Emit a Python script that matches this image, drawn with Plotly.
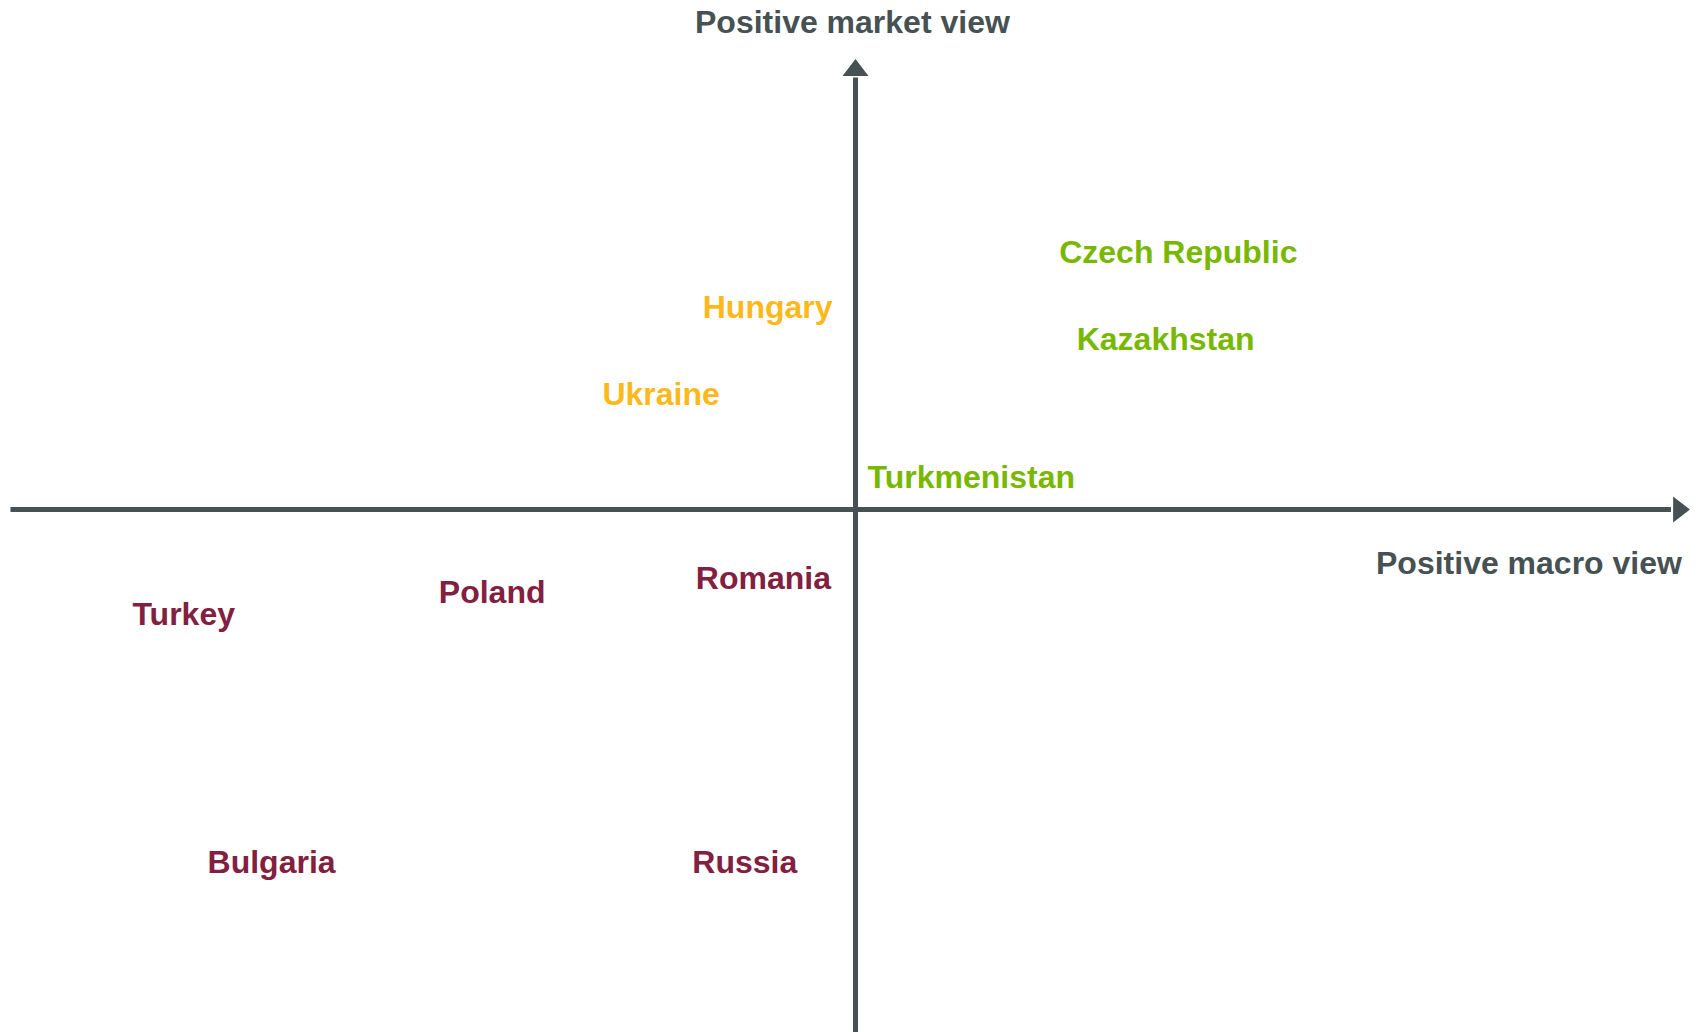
import plotly.graph_objects as go

# Data: macro view score (x) and market view score (y); axes cross at 0
green_countries = ["Czech Republic", "Kazakhstan", "Turkmenistan"]
green_macro = [3.82, 3.67, 1.37]
green_market = [5.66, 3.73, 0.65]

orange_countries = ["Hungary", "Ukraine"]
orange_macro = [-1.04, -2.30]
orange_market = [4.43, 2.49]

red_countries = ["Romania", "Poland", "Turkey", "Bulgaria", "Russia"]
red_macro = [-1.09, -4.30, -7.95, -6.91, -1.31]
red_market = [-1.58, -1.89, -2.38, -7.89, -7.89]

x_axis_label = "Positive macro view"
y_axis_label = "Positive market view"

GREY = "#465153"
GREEN = "#78b800"
ORANGE = "#ffb81c"
RED = "#82203f"
FONT = "Liberation Sans, Arial, Helvetica, sans-serif"
FS = 32

X_RANGE = [-10.124, 9.970]
Y_RANGE = [-11.611, 11.322]
X_LINE = [-10.0, 9.65]
Y_LINE = [-11.8, 9.6]
X_HEAD = 9.742
Y_HEAD = 9.76

fig = go.Figure()

for names, xs, ys, col in [
    (green_countries, green_macro, green_market, GREEN),
    (orange_countries, orange_macro, orange_market, ORANGE),
    (red_countries, red_macro, red_market, RED),
]:
    fig.add_trace(go.Scatter(
        x=xs, y=ys, text=names, mode="text", textposition="middle center",
        textfont=dict(family=FONT, size=FS, color=col, weight="bold"),
        hoverinfo="text", showlegend=False,
    ))

# Axis lines
fig.add_shape(type="line", x0=X_LINE[0], x1=X_LINE[1], y0=0, y1=0,
              line=dict(color=GREY, width=5), layer="below")
fig.add_shape(type="line", x0=0, x1=0, y0=Y_LINE[0], y1=Y_LINE[1],
              line=dict(color=GREY, width=5), layer="below")

# Arrow heads
fig.add_trace(go.Scatter(x=[X_HEAD], y=[0], mode="markers",
                         marker=dict(symbol="triangle-right", size=22.5, color=GREY),
                         hoverinfo="skip", showlegend=False))
fig.add_trace(go.Scatter(x=[0], y=[Y_HEAD], mode="markers",
                         marker=dict(symbol="triangle-up", size=22.5, color=GREY),
                         hoverinfo="skip", showlegend=False))

fig.add_annotation(x=-0.04, y=10.83, xref="x", yref="y", text=y_axis_label,
                   showarrow=False, xanchor="center", yanchor="middle",
                   font=dict(family=FONT, size=FS, color=GREY, weight="bold"))
fig.add_annotation(x=9.80, y=-1.19, xref="x", yref="y", text=x_axis_label,
                   showarrow=False, xanchor="right", yanchor="middle",
                   font=dict(family=FONT, size=FS, color=GREY, weight="bold"))

fig.update_xaxes(range=X_RANGE, visible=False, showgrid=False, zeroline=False)
fig.update_yaxes(range=Y_RANGE, visible=False, showgrid=False, zeroline=False)
fig.update_layout(
    width=1698, height=1032, margin=dict(l=0, r=0, t=0, b=0),
    plot_bgcolor="white", paper_bgcolor="white",
)

fig.write_html("out.html", config={"displayModeBar": False},
               post_script="document.body.style.margin='0';document.body.style.overflow='hidden';")
